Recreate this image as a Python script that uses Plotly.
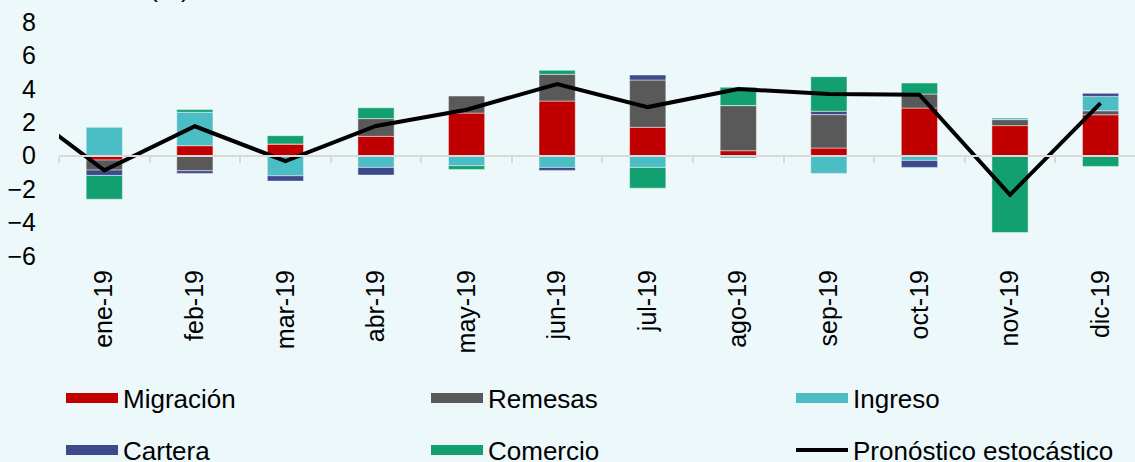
import plotly.graph_objects as go

months = ["dic-18", "ene-19", "feb-19", "mar-19", "abr-19", "may-19", "jun-19",
          "jul-19", "ago-19", "sep-19", "oct-19", "nov-19", "dic-19"]
migracion = [None, -0.26, 0.60, 0.70, 1.16, 2.55, 3.27, 1.70, 0.30, 0.46, 2.85, 1.80, 2.45]
remesas = [None, -0.60, -0.90, 0.0, 1.06, 1.04, 1.60, 2.83, 2.70, 2.00, 0.84, 0.36, 0.24]
ingreso = [None, 1.70, 2.00, -1.20, -0.70, -0.60, -0.70, -0.70, -0.14, -1.06, -0.28, 0.12, 0.86]
cartera = [None, -0.32, -0.16, -0.32, -0.46, 0.0, -0.18, 0.30, 0.0, 0.20, -0.42, 0.0, 0.18]
comercio = [None, -1.42, 0.16, 0.50, 0.65, -0.22, 0.24, -1.24, 1.10, 2.07, 0.66, -4.60, -0.64]
pronostico = [3.2, -0.88, 1.76, -0.32, 1.78, 2.75, 4.29, 2.91, 3.99, 3.69, 3.65, -2.34, 3.15]
y_ticks = [-6, -4, -2, 0, 2, 4, 6, 8]

colors = {
    "Migración": "#C00000",
    "Remesas": "#595959",
    "Ingreso": "#4BBDC4",
    "Cartera": "#3C4A8B",
    "Comercio": "#13A070",
}
series = [("Migración", migracion), ("Remesas", remesas), ("Ingreso", ingreso),
          ("Cartera", cartera), ("Comercio", comercio)]
legend_ids = ["legend", "legend2", "legend3", "legend4", "legend5", "legend6"]

W, H = 1135, 462
ML, MR, MT, MB = 59, 0, 22, 206
PW, PH = W - ML - MR, H - MT - MB

FONT = "Arial, Liberation Sans, sans-serif"
fig = go.Figure()
for name, vals in series:
    fig.add_trace(go.Bar(
        x=months, y=vals, name=name, showlegend=False,
        marker=dict(color=colors[name], line=dict(color="rgba(255,255,255,0.45)", width=1)),
        width=0.4,
    ))
# legend proxies (wide swatches)
for (name, _), lid in zip(series, legend_ids):
    fig.add_trace(go.Scatter(
        x=[None], y=[None], mode="lines", name=name, legend=lid,
        line=dict(color=colors[name], width=13), hoverinfo="skip",
    ))
fig.add_trace(go.Scatter(
    x=months, y=pronostico, mode="lines", name="Pronóstico estocástico",
    legend=legend_ids[5], line=dict(color="#000000", width=4),
))
# axis line at zero with boundary ticks
fig.add_trace(go.Scatter(x=[], y=[], xaxis="x2", showlegend=False, hoverinfo="skip"))

xr = [0.5, 12.38]

# legend grid: 3 columns x 2 rows
col_px = [61, 426, 791]
row_px = [398, 450]
legends = {}
for i, lid in enumerate(legend_ids):
    cx = col_px[i % 3]
    ry = row_px[i // 3]
    legends[lid] = dict(
        orientation="h", x=(cx - ML) / PW, y=(MT + PH - ry) / PH,
        xanchor="left", yanchor="middle", itemwidth=52,
        bgcolor="rgba(0,0,0,0)", font=dict(size=26, color="#000000"),
    )

fig.update_layout(
    width=W, height=H,
    margin=dict(l=ML, r=MR, t=MT, b=MB, autoexpand=False),
    paper_bgcolor="#EDF8FA", plot_bgcolor="#EDF8FA",
    barmode="relative",
    font=dict(family=FONT, size=25, color="#000000"),
    xaxis=dict(type="category", categoryarray=months, range=xr,
               showline=False, showgrid=False, zeroline=False,
               ticks="", tickangle=-90, tickfont=dict(size=25),
               ticklabelstandoff=8, fixedrange=True),
    xaxis2=dict(type="category", categoryarray=months, range=xr,
                overlaying="x", anchor="free", position=6 / 14,
                showline=True, linecolor="#D9D9D9", linewidth=2,
                ticks="outside", tickson="boundaries", ticklen=6,
                tickcolor="#D9D9D9", tickwidth=2,
                showticklabels=False, showgrid=False, zeroline=False),
    yaxis=dict(range=[-6, 8], tickvals=y_ticks, showgrid=False, zeroline=False,
               showline=False, ticks="", tickfont=dict(size=25),
               ticklabelstandoff=22),
    annotations=[dict(text="Puntos (%)", xref="paper", yref="paper", x=0.0,
                      y=1 + (MT - 5) / PH,
                      xanchor="left", yanchor="bottom", showarrow=False,
                      font=dict(size=26, color="#000000"))],
    **legends,
)
fig.write_html(
    "out.html",
    config={"displayModeBar": False},
    post_script="document.body.style.margin='0px';document.body.style.background='#EDF8FA';",
)
